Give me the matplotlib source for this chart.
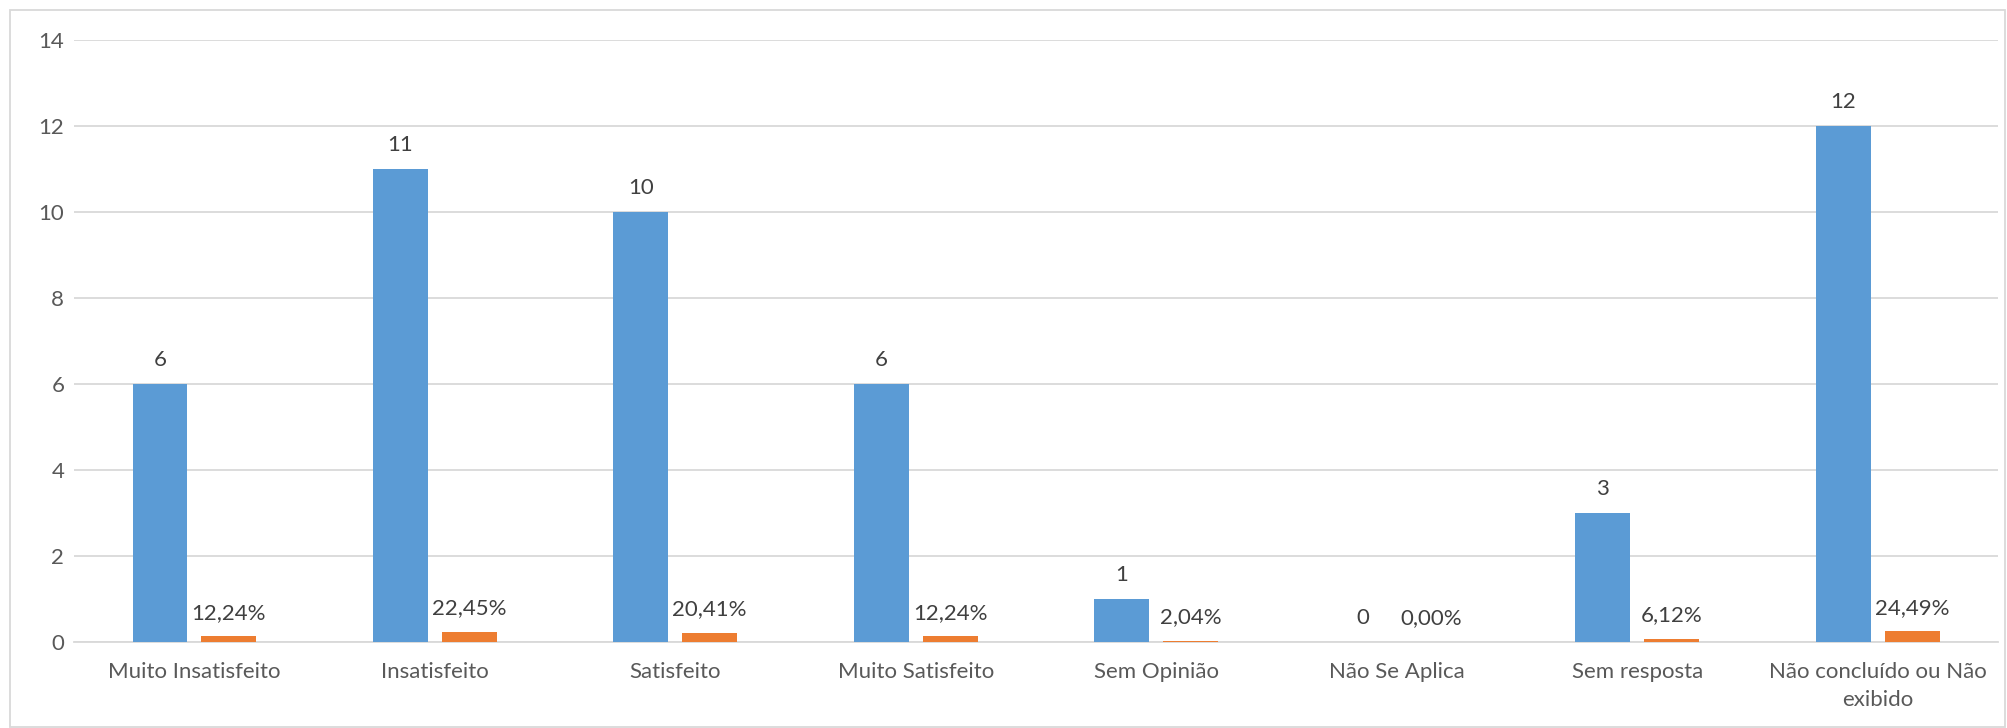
import numpy as np
import matplotlib.pyplot as plt
from matplotlib.patches import Rectangle

# Data
categories = [
    "Muito Insatisfeito",
    "Insatisfeito",
    "Satisfeito",
    "Muito Satisfeito",
    "Sem Opinião",
    "Não Se Aplica",
    "Sem resposta",
    "Não concluído ou Não\nexibido",
]
counts = [6, 11, 10, 6, 1, 0, 3, 12]
shares = [0.1224, 0.2245, 0.2041, 0.1224, 0.0204, 0.0, 0.0612, 0.2449]
y_ticks = [0, 2, 4, 6, 8, 10, 12, 14]

plt.rcParams["font.family"] = ["Lato", "DejaVu Sans"]

blue = "#5B9BD5"
orange = "#ED7D31"
tick_color = "#595959"
label_color = "#404040"
grid_color = "#D9D9D9"
fs = 16

fig = plt.figure(figsize=(20.08, 7.28), dpi=100)
ax = fig.add_axes([0.0369, 0.1188, 0.9581, 0.8267])

x = np.arange(len(categories))
width = 0.228
offset = 0.143

bars_count = ax.bar(x - offset, counts, width, color=blue, zorder=3)
bars_share = ax.bar(x + offset, shares, width, color=orange, zorder=3)

# Data labels
for rect, v in zip(bars_count, counts):
    ax.annotate(
        str(v),
        (rect.get_x() + rect.get_width() / 2, rect.get_height()),
        xytext=(0, 12.5), textcoords="offset points",
        ha="center", va="baseline", fontsize=fs, color=label_color,
    )
for rect, v in zip(bars_share, shares):
    ax.annotate(
        f"{v * 100:.2f}%".replace(".", ","),
        (rect.get_x() + rect.get_width() / 2, rect.get_height()),
        xytext=(0, 12.5), textcoords="offset points",
        ha="center", va="baseline", fontsize=fs, color=label_color,
    )

ax.set_xlim(-0.5, len(categories) - 0.5)
ax.set_ylim(0, 14)
ax.set_yticks(y_ticks)
ax.set_xticks(x)
ax.set_xticklabels(categories, fontsize=fs, color=tick_color, linespacing=1.5)
ax.tick_params(axis="y", labelsize=fs, labelcolor=tick_color, length=0, pad=7)
ax.tick_params(axis="x", length=0, pad=15)

ax.grid(axis="y", color=grid_color, linewidth=1.3, zorder=0)
for side in ["top", "right", "left"]:
    ax.spines[side].set_visible(False)
ax.spines["bottom"].set_color(grid_color)
ax.spines["bottom"].set_linewidth(1.3)

# Chart border
fig.patches.append(Rectangle(
    (10 / 2008, 1 / 728), 1995 / 2008, 717 / 728,
    transform=fig.transFigure, fill=False, edgecolor=grid_color, linewidth=1.3,
))

plt.savefig("out.png", dpi=100)
plt.close()
